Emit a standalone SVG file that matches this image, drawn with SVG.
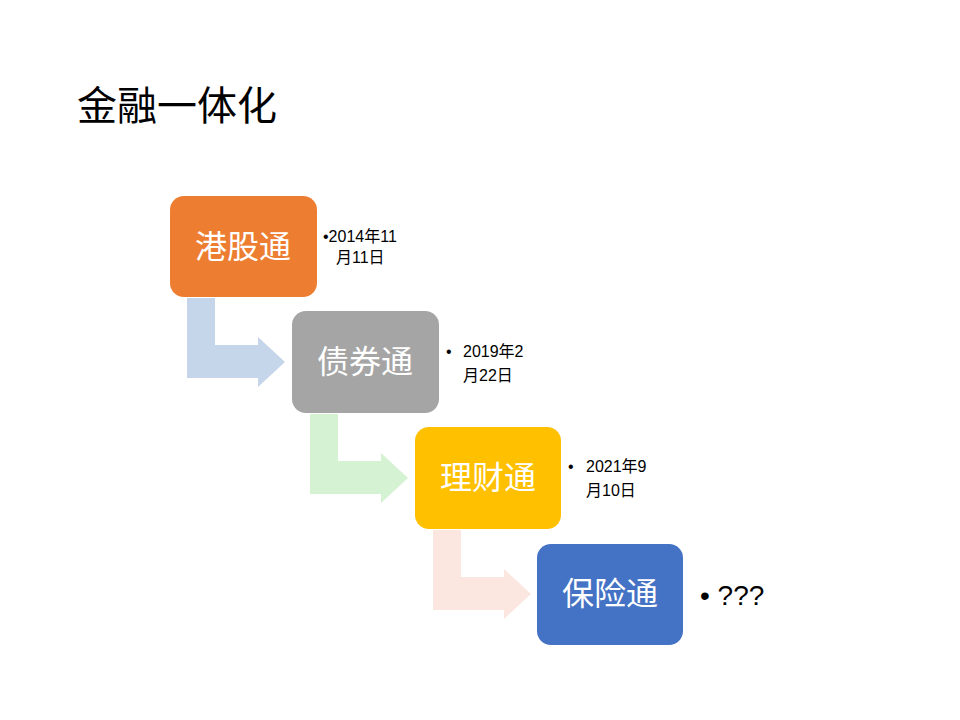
<svg xmlns="http://www.w3.org/2000/svg" width="960" height="720" viewBox="0 0 960 720">
<style>
.box{rx:12}
.lbl{font-family:"Noto Sans CJK SC","Liberation Sans",sans-serif;font-size:32px;fill:#fff;text-anchor:middle}
.note{font-family:"Liberation Sans","Noto Sans CJK SC",sans-serif;font-size:16px;fill:#000}
</style>
<defs>
<path id="arr" d="M0,0 H28 V48 H71 V40 H98 L71,66 V88 H0 Z"/>
</defs>
<rect width="960" height="720" fill="#fff"/>
<text x="77" y="120" font-family="Noto Sans CJK SC,sans-serif" font-size="40" fill="#000">金融一体化</text>
<g id="connectors">
<path d="M187,298 H215 V345 H258 V337 L285,362 L258,387 V378 H187 Z" fill="#C5D5EA"/>
<path d="M310,414 H338 V461 H381 V453 L408,478 L381,503 V494 H310 Z" fill="#D5F2D2"/>
<path d="M433,530 H461 V577 H504 V569 L531,594 L504,619 V610 H433 Z" fill="#FBE6E0"/>
</g>
<g id="n1"><rect x="170" y="196" width="147" height="101" rx="14" fill="#ED7D31"/><text class="lbl" x="243" y="258">港股通</text>
<text class="note" x="323" y="242">•2014年11</text><text class="note" x="336" y="263">月11日</text></g>
<g id="n2"><rect x="292" y="311" width="147" height="102" rx="14" fill="#A5A5A5"/><text class="lbl" x="365" y="373">债券通</text>
<text class="note" x="446" y="357">•</text><text class="note" x="463" y="357">2019年2</text><text class="note" x="463" y="381">月22日</text></g>
<g id="n3"><rect x="415" y="427" width="146" height="102" rx="14" fill="#FFC000"/><text class="lbl" x="488" y="489">理财通</text>
<text class="note" x="568" y="472">•</text><text class="note" x="586" y="472">2021年9</text><text class="note" x="586" y="496">月10日</text></g>
<g id="n4"><rect x="537" y="544" width="146" height="101" rx="14" fill="#4472C4"/><text class="lbl" x="610" y="605">保险通</text>
<text x="700" y="605" font-family="Liberation Sans,sans-serif" font-size="28" fill="#000">• ???</text></g>
</svg>
